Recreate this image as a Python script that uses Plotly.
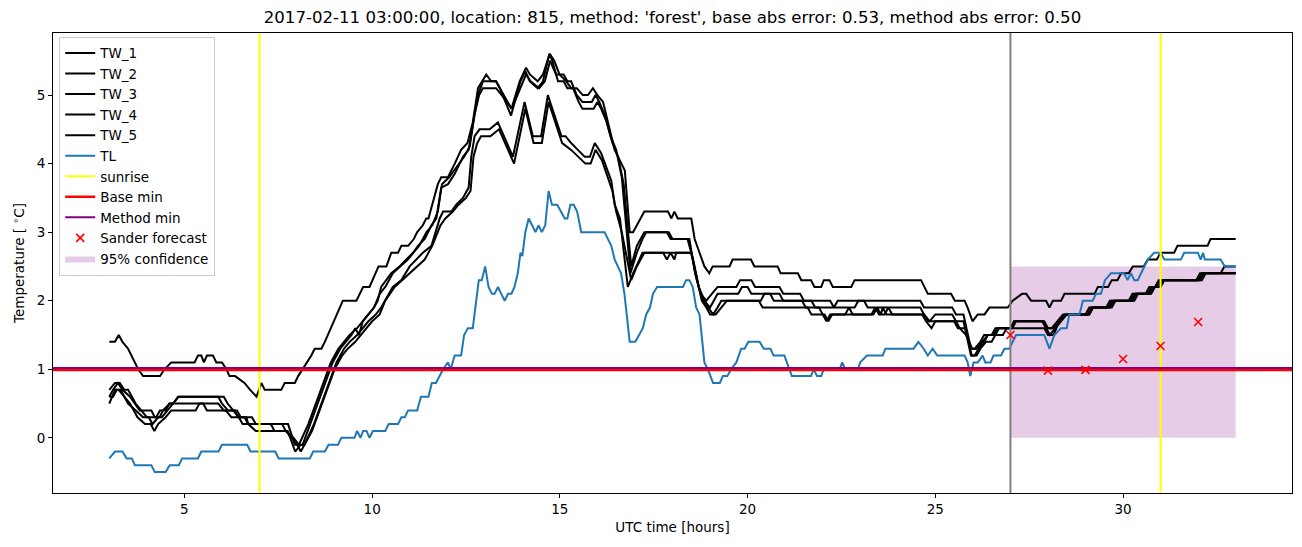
import plotly.graph_objects as go

# ---------------- data (hours UTC, temperature degC) ----------------
TW_1 = [(3.0,1.4),(3.15,1.4),(3.25,1.5),(3.35,1.4),(3.5,1.3),(3.77,1.0),(3.9,0.9),(4.35,0.9),(4.47,1.0),(4.65,1.1),(5.27,1.1),(5.36,1.2),(5.45,1.2),(5.52,1.1),(5.6,1.2),(5.76,1.2),(5.85,1.1),(6.0,1.1),(6.12,1.0),(6.2,0.9),(6.35,0.9),(6.6,0.8),(6.75,0.7),(6.92,0.6),(7.05,0.8),(7.14,0.7),(7.58,0.7),(7.67,0.8),(7.94,0.8),(8.03,0.9),(8.38,1.2),(8.47,1.3),(8.65,1.3),(8.74,1.4),(9.22,2.0),(9.58,2.0),(9.76,2.2),(9.93,2.2),(10.17,2.5),(10.38,2.5),(10.51,2.7),(10.69,2.7),(10.78,2.8),(10.96,2.8),(11.11,2.9),(11.2,3.0),(11.35,3.1),(11.44,3.2),(11.5,3.2),(11.75,3.7),(11.84,3.8),(12.02,3.8),(12.2,4.0),(12.37,4.2),(12.54,4.3),(12.68,4.6),(12.82,5.1),(13.04,5.3),(13.17,5.2),(13.3,5.2),(13.71,4.8),(13.93,5.2),(14.1,5.4),(14.2,5.3),(14.41,5.2),(14.55,5.3),(14.73,5.6),(14.85,5.5),(14.99,5.3),(15.17,5.2),(15.3,5.1),(15.45,5.1),(15.61,5.0),(15.75,5.0),(15.88,5.1),(16.0,5.0),(16.15,4.9),(16.28,4.6),(16.46,4.2),(16.73,3.9),(16.86,3.0),(16.95,3.0),(17.05,3.1),(17.15,3.2),(17.25,3.3),(17.88,3.3),(17.97,3.2),(18.05,3.3),(18.14,3.2),(18.5,3.2),(18.59,2.9),(18.72,2.7),(18.85,2.5),(18.98,2.4),(19.07,2.5),(19.52,2.5),(19.6,2.6),(20.09,2.6),(20.18,2.5),(20.8,2.5),(20.88,2.4),(21.34,2.4),(21.43,2.3),(21.69,2.3),(21.78,2.2),(21.96,2.2),(22.03,2.3),(22.18,2.3),(22.27,2.2),(22.76,2.2),(22.85,2.3),(24.62,2.3),(24.8,2.1),(25.42,2.1),(25.52,2.0),(25.78,2.0),(25.86,1.9),(25.99,1.7),(26.13,1.8),(26.31,1.8),(26.44,1.9),(26.93,1.9),(27.06,2.0),(27.31,2.1),(27.42,2.1),(27.55,2.0),(27.95,2.0),(28.04,1.9),(28.13,2.0),(28.35,2.0),(28.44,2.1),(29.24,2.1),(29.33,2.2),(29.6,2.2),(29.7,2.3),(29.85,2.3),(29.95,2.4),(30.15,2.4),(30.26,2.5),(30.55,2.5),(30.66,2.6),(30.9,2.6),(31.0,2.7),(31.36,2.7),(31.45,2.8),(32.25,2.8),(32.33,2.9),(33.0,2.9)]

TW_2 = [(3.0,0.6),(3.1,0.7),(3.23,0.8),(3.35,0.7),(3.55,0.6),(3.81,0.4),(4.12,0.4),(4.21,0.3),(4.34,0.3),(4.43,0.4),(4.61,0.5),(4.7,0.5),(4.83,0.6),(5.9,0.6),(6.0,0.5),(6.16,0.4),(6.34,0.4),(6.43,0.3),(6.65,0.3),(6.7,0.2),(7.76,0.2),(7.94,-0.1),(8.05,-0.1),(8.3,0.2),(8.5,0.5),(8.7,0.8),(8.9,1.1),(9.1,1.3),(9.25,1.4),(9.4,1.5),(9.6,1.6),(9.75,1.7),(9.9,1.8),(10.05,1.9),(10.15,2.0),(10.24,2.2),(10.51,2.4),(10.73,2.5),(10.91,2.6),(11.09,2.7),(11.22,2.8),(11.4,2.9),(11.58,3.1),(11.71,3.2),(11.84,3.65),(12.02,3.7),(12.2,3.85),(12.42,4.1),(12.57,4.2),(12.7,4.6),(12.82,5.0),(12.95,5.2),(13.3,5.2),(13.4,5.1),(13.7,4.7),(13.95,5.2),(14.08,5.35),(14.2,5.2),(14.41,5.1),(14.55,5.2),(14.72,5.6),(14.8,5.5),(14.95,5.2),(15.1,5.2),(15.2,5.1),(15.35,5.1),(15.5,4.9),(15.6,4.8),(15.9,4.8),(16.0,4.9),(16.1,4.8),(16.25,4.6),(16.4,4.3),(16.55,4.1),(16.7,3.7),(16.9,2.5),(17.05,2.8),(17.25,3.0),(17.9,3.0),(18.0,2.9),(18.45,2.9),(18.6,2.4),(18.75,2.1),(18.9,2.0),(19.05,2.1),(19.2,2.2),(19.7,2.2),(19.8,2.3),(20.1,2.3),(20.2,2.2),(20.85,2.2),(20.95,2.1),(21.4,2.1),(21.5,2.0),(22.2,2.0),(22.3,1.9),(22.4,2.0),(24.6,2.0),(24.7,1.9),(25.45,1.9),(25.55,1.8),(25.75,1.8),(25.95,1.3),(26.05,1.3),(26.2,1.4),(26.3,1.5),(26.5,1.5),(26.6,1.6),(27.0,1.6),(27.1,1.7),(27.9,1.7),(28.0,1.6),(28.15,1.6),(28.3,1.7),(28.45,1.8),(29.06,1.8),(29.15,1.9),(29.6,1.9),(29.7,2.0),(30.2,2.0),(30.3,2.1),(30.66,2.1),(30.75,2.2),(30.9,2.2),(31.0,2.3),(32.0,2.3),(32.1,2.4),(33.0,2.4)]

TW_3 = [(3.0,0.7),(3.15,0.8),(3.28,0.8),(3.4,0.7),(3.5,0.7),(3.7,0.5),(3.85,0.4),(4.0,0.3),(4.25,0.3),(4.35,0.4),(4.5,0.4),(4.6,0.5),(5.9,0.5),(6.05,0.4),(6.4,0.4),(6.5,0.3),(6.8,0.3),(6.9,0.2),(7.6,0.2),(7.7,0.1),(7.9,0.0),(8.05,-0.1),(8.15,-0.1),(8.35,0.2),(8.55,0.5),(8.75,0.8),(8.95,1.1),(9.15,1.3),(9.3,1.4),(9.45,1.5),(9.55,1.6),(9.65,1.5),(9.75,1.7),(9.9,1.8),(10.05,1.9),(10.2,2.1),(10.35,2.2),(10.55,2.4),(10.75,2.5),(10.95,2.6),(11.1,2.7),(11.25,2.8),(11.45,3.0),(11.6,3.1),(11.75,3.3),(11.86,3.7),(12.05,3.8),(12.25,3.95),(12.45,4.1),(12.6,4.25),(12.72,4.7),(12.85,5.0),(12.95,5.1),(13.3,5.1),(13.45,5.0),(13.72,4.8),(13.95,5.1),(14.1,5.3),(14.22,5.2),(14.45,5.1),(14.6,5.2),(14.74,5.5),(14.9,5.3),(15.1,5.3),(15.2,5.2),(15.3,5.2),(15.45,5.0),(15.6,4.9),(15.85,4.9),(15.95,5.0),(16.05,4.9),(16.2,4.7),(16.35,4.4),(16.5,4.2),(16.65,3.8),(16.88,2.4),(17.05,2.7),(17.2,2.9),(17.3,3.0),(17.85,3.0),(17.95,2.9),(18.4,2.9),(18.55,2.6),(18.7,2.2),(18.85,2.0),(19.0,1.9),(19.1,2.0),(19.2,2.1),(19.75,2.1),(19.85,2.2),(20.0,2.2),(20.1,2.1),(20.85,2.1),(20.95,2.0),(21.7,2.0),(21.8,1.9),(22.85,1.9),(22.95,2.0),(23.1,2.0),(23.2,1.9),(24.6,1.9),(24.7,1.8),(24.85,1.7),(25.0,1.8),(25.45,1.8),(25.55,1.7),(25.75,1.7),(25.95,1.2),(26.05,1.2),(26.15,1.3),(26.3,1.4),(26.4,1.5),(26.6,1.5),(26.7,1.6),(27.05,1.6),(27.15,1.7),(27.85,1.7),(27.95,1.6),(28.1,1.6),(28.25,1.7),(28.4,1.8),(29.1,1.8),(29.2,1.9),(29.65,1.9),(29.75,2.0),(30.25,2.0),(30.35,2.1),(30.7,2.1),(30.8,2.2),(30.95,2.2),(31.05,2.3),(32.05,2.3),(32.15,2.4),(32.6,2.4),(32.7,2.5),(33.0,2.5)]

TW_4 = [(3.0,0.5),(3.15,0.7),(3.25,0.7),(3.4,0.6),(3.55,0.5),(3.75,0.3),(3.95,0.2),(4.1,0.2),(4.2,0.1),(4.3,0.2),(4.5,0.3),(4.65,0.4),(5.3,0.4),(5.4,0.5),(5.5,0.5),(5.6,0.4),(6.1,0.4),(6.25,0.3),(6.6,0.3),(6.7,0.2),(6.9,0.1),(7.75,0.1),(7.95,-0.2),(8.1,-0.1),(8.2,-0.1),(8.45,0.2),(8.65,0.5),(8.85,0.8),(9.05,1.1),(9.25,1.3),(9.4,1.4),(9.6,1.5),(9.75,1.6),(9.9,1.7),(10.1,1.8),(10.24,1.9),(10.55,2.2),(10.78,2.3),(11.0,2.5),(11.18,2.6),(11.35,2.7),(11.58,2.8),(11.8,3.2),(11.89,3.3),(12.11,3.3),(12.24,3.4),(12.42,3.5),(12.57,3.65),(12.64,4.1),(12.73,4.4),(12.86,4.5),(13.13,4.5),(13.35,4.6),(13.75,4.1),(14.06,4.9),(14.28,4.4),(14.5,4.4),(14.68,5.0),(15.04,4.4),(15.15,4.4),(15.3,4.3),(15.48,4.2),(15.66,4.1),(15.8,4.1),(15.93,4.3),(16.1,4.15),(16.37,3.75),(16.46,3.4),(16.6,3.2),(16.81,2.2),(16.95,2.4),(17.12,2.6),(17.2,2.7),(17.75,2.7),(17.85,2.6),(17.95,2.7),(18.05,2.6),(18.1,2.7),(18.5,2.7),(18.65,2.3),(18.8,2.0),(18.95,1.9),(19.08,1.8),(19.2,1.9),(19.3,2.0),(20.35,2.0),(20.45,2.1),(20.6,2.1),(20.7,2.0),(21.45,2.0),(21.55,1.9),(21.9,1.9),(22.0,1.8),(22.1,1.7),(22.2,1.8),(22.6,1.8),(22.7,1.9),(22.8,1.8),(23.35,1.8),(23.45,1.9),(23.55,1.8),(23.6,1.9),(23.7,1.8),(24.65,1.8),(24.75,1.7),(24.9,1.6),(25.0,1.7),(25.5,1.7),(25.6,1.6),(25.8,1.6),(25.97,1.2),(26.1,1.2),(26.2,1.3),(26.35,1.4),(26.5,1.4),(26.6,1.5),(26.8,1.5),(26.9,1.6),(27.9,1.6),(28.0,1.5),(28.15,1.5),(28.3,1.7),(28.5,1.8),(29.1,1.8),(29.2,1.9),(29.7,1.9),(29.8,2.0),(30.3,2.0),(30.4,2.1),(30.75,2.1),(30.85,2.2),(31.0,2.2),(31.1,2.3),(32.1,2.3),(32.2,2.4),(33.0,2.4)]

TW_5 = [(3.0,0.6),(3.1,0.6),(3.2,0.7),(3.3,0.7),(3.5,0.5),(3.7,0.4),(3.9,0.3),(4.05,0.3),(4.15,0.2),(4.3,0.3),(4.4,0.3),(4.55,0.4),(4.7,0.5),(4.85,0.6),(6.05,0.6),(6.15,0.5),(6.3,0.4),(6.45,0.3),(6.55,0.2),(7.3,0.2),(7.4,0.1),(7.7,0.1),(7.85,0.0),(8.0,-0.1),(8.1,-0.2),(8.2,-0.1),(8.4,0.1),(8.6,0.4),(8.8,0.7),(9.0,1.0),(9.2,1.2),(9.35,1.3),(9.55,1.4),(9.7,1.5),(9.85,1.6),(10.0,1.7),(10.2,1.8),(10.35,2.0),(10.6,2.2),(10.8,2.3),(11.0,2.4),(11.2,2.5),(11.4,2.6),(11.6,2.8),(11.82,3.1),(11.95,3.2),(12.15,3.3),(12.3,3.4),(12.5,3.5),(12.62,3.6),(12.7,4.1),(12.8,4.3),(12.9,4.4),(13.15,4.4),(13.38,4.5),(13.78,4.0),(14.08,4.8),(14.3,4.3),(14.52,4.3),(14.7,4.9),(15.06,4.3),(15.3,4.2),(15.5,4.1),(15.68,4.0),(15.82,4.0),(15.95,4.2),(16.12,4.05),(16.4,3.6),(16.5,3.3),(16.65,3.0),(16.9,2.3),(17.05,2.5),(17.15,2.6),(17.25,2.7),(17.7,2.7),(18.5,2.7),(18.62,2.4),(18.78,2.0),(18.9,1.9),(19.0,1.8),(19.15,1.8),(19.3,1.9),(19.45,2.0),(20.3,2.0),(20.4,1.9),(21.6,1.9),(21.7,1.8),(22.05,1.8),(22.15,1.7),(22.25,1.8),(23.3,1.8),(23.4,1.9),(23.5,1.8),(23.65,1.8),(23.75,1.9),(23.85,1.8),(24.7,1.8),(24.8,1.7),(25.55,1.7),(25.65,1.6),(25.82,1.5),(25.98,1.3),(26.1,1.3),(26.25,1.4),(26.4,1.5),(26.55,1.5),(26.65,1.6),(27.0,1.6),(27.1,1.7),(27.85,1.7),(27.95,1.6),(28.05,1.5),(28.2,1.6),(28.35,1.7),(28.5,1.8),(29.0,1.8),(29.1,1.9),(29.55,1.9),(29.65,2.0),(30.15,2.0),(30.25,2.1),(30.6,2.1),(30.7,2.2),(30.85,2.2),(30.95,2.3),(31.95,2.3),(32.05,2.4),(33.0,2.4)]

TL = [(3.0,-0.3),(3.15,-0.2),(3.35,-0.2),(3.46,-0.3),(3.6,-0.3),(3.68,-0.4),(4.12,-0.4),(4.21,-0.5),(4.5,-0.5),(4.61,-0.4),(4.85,-0.4),(4.94,-0.3),(5.36,-0.3),(5.45,-0.2),(5.91,-0.2),(6.0,-0.1),(6.67,-0.1),(6.76,-0.2),(7.42,-0.2),(7.51,-0.3),(8.34,-0.3),(8.43,-0.2),(8.74,-0.2),(8.84,-0.1),(9.09,-0.1),(9.18,0.0),(9.53,0.0),(9.6,0.1),(9.69,0.0),(9.76,0.1),(9.85,0.1),(9.93,0.0),(10.02,0.1),(10.35,0.1),(10.44,0.2),(10.69,0.2),(10.78,0.3),(10.87,0.3),(10.96,0.4),(11.2,0.4),(11.25,0.5),(11.3,0.6),(11.5,0.6),(11.59,0.8),(11.7,0.8),(11.8,0.9),(11.89,1.0),(12.02,1.1),(12.09,1.0),(12.2,1.2),(12.37,1.2),(12.45,1.5),(12.55,1.6),(12.68,1.6),(12.84,2.3),(12.92,2.3),(13.01,2.5),(13.1,2.2),(13.19,2.1),(13.26,2.1),(13.35,2.2),(13.44,2.1),(13.53,2.0),(13.62,2.1),(13.71,2.1),(13.79,2.2),(13.88,2.4),(13.95,2.7),(14.0,2.65),(14.08,3.0),(14.17,3.2),(14.26,3.1),(14.35,3.0),(14.43,3.1),(14.52,3.0),(14.61,3.1),(14.7,3.6),(14.79,3.4),(14.93,3.4),(15.13,3.2),(15.2,3.2),(15.28,3.4),(15.37,3.4),(15.46,3.3),(15.57,3.0),(16.19,3.0),(16.28,2.9),(16.37,2.8),(16.46,2.6),(16.55,2.5),(16.63,2.4),(16.72,2.1),(16.86,1.4),(17.01,1.4),(17.12,1.5),(17.21,1.6),(17.3,1.8),(17.4,1.9),(17.48,2.1),(17.59,2.2),(18.28,2.2),(18.36,2.3),(18.45,2.3),(18.54,2.2),(18.63,1.9),(18.72,1.8),(18.85,1.1),(18.94,1.0),(19.08,0.8),(19.26,0.8),(19.34,0.9),(19.46,0.9),(19.56,1.0),(19.7,1.1),(19.83,1.3),(19.92,1.3),(20.02,1.4),(20.32,1.4),(20.43,1.3),(20.61,1.3),(20.69,1.2),(20.98,1.2),(21.18,0.9),(21.69,0.9),(21.76,1.0),(21.85,0.9),(21.96,0.9),(22.03,1.0),(22.45,1.0),(22.52,1.1),(22.6,1.0),(22.94,1.0),(23.0,1.1),(23.18,1.2),(23.6,1.2),(23.67,1.3),(24.42,1.3),(24.55,1.4),(24.69,1.3),(24.8,1.2),(24.93,1.3),(25.05,1.2),(25.78,1.2),(25.86,1.1),(25.93,0.9),(26.02,1.1),(26.13,1.1),(26.26,1.2),(26.33,1.1),(26.47,1.1),(26.55,1.2),(26.75,1.2),(26.84,1.3),(26.97,1.3),(27.06,1.4),(27.15,1.5),(27.9,1.5),(28.04,1.3),(28.17,1.5),(28.35,1.6),(28.5,1.6),(28.57,1.8),(28.84,1.8),(28.93,2.0),(29.19,2.0),(29.28,2.1),(29.41,2.1),(29.52,2.3),(29.68,2.4),(30.03,2.4),(30.12,2.3),(30.21,2.4),(30.3,2.3),(30.39,2.3),(30.48,2.4),(30.57,2.5),(30.66,2.6),(30.83,2.7),(31.0,2.7),(31.1,2.6),(31.54,2.6),(31.63,2.7),(31.99,2.7),(32.07,2.6),(32.13,2.7),(32.18,2.6),(32.6,2.6),(32.71,2.5),(33.0,2.5)]

sunrise_hours = [7.0, 31.0]
forecast_hour = 27.0
base_min = 0.99
method_min = 1.02
sander_hours = [27, 28, 29, 30, 31, 32]
sander_values = [1.5, 0.98, 0.99, 1.15, 1.34, 1.69]
conf_hours = [27.0, 33.0]
conf_low = [0.0, 0.0]
conf_high = [2.5, 2.5]

title = "2017-02-11 03:00:00, location: 815, method: 'forest', base abs error: 0.53, method abs error: 0.50"
x_ticks = [5, 10, 15, 20, 25, 30]
y_ticks = [0, 1, 2, 3, 4, 5]

# ---------------- axis limits (matplotlib-like 5% margins) ----------------
series = [TW_1, TW_2, TW_3, TW_4, TW_5, TL]
all_x = [p[0] for s in series for p in s]
all_y = [p[1] for s in series for p in s] + conf_low + conf_high
x0, x1 = min(all_x), max(all_x)
y0, y1 = min(all_y), max(all_y)
xr = [x0 - 0.05 * (x1 - x0), x1 + 0.05 * (x1 - x0)]
yr = [y0 - 0.05 * (y1 - y0), y1 + 0.05 * (y1 - y0)]

FONT = "DejaVu Sans"
fig = go.Figure()

# confidence band (drawn first, legend last)
fig.add_trace(go.Scatter(
    x=conf_hours + conf_hours[::-1], y=conf_high + conf_low[::-1],
    fill="toself", fillcolor="rgba(128,0,128,0.2)", line=dict(width=0),
    mode="lines", name="95% confidence", legendrank=1011, legendgroup="g11",
    hoverinfo="skip"))

names = ["TW_1", "TW_2", "TW_3", "TW_4", "TW_5"]
for i, (nm, s) in enumerate(zip(names, series[:5])):
    fig.add_trace(go.Scatter(
        x=[p[0] for p in s], y=[p[1] for p in s], mode="lines",
        line=dict(color="black", width=2), name=nm,
        legendrank=1000 + i, legendgroup="g%d" % i))

fig.add_trace(go.Scatter(
    x=[p[0] for p in TL], y=[p[1] for p in TL], mode="lines",
    line=dict(color="#1f77b4", width=2), name="TL",
    legendrank=1005, legendgroup="g5"))

for k, h in enumerate(sunrise_hours):
    fig.add_trace(go.Scatter(
        x=[h, h], y=yr, mode="lines", line=dict(color="yellow", width=2),
        name="sunrise", showlegend=(k == 0), legendrank=1006, legendgroup="g6"))

fig.add_trace(go.Scatter(
    x=[forecast_hour, forecast_hour], y=yr, mode="lines",
    line=dict(color="gray", width=2), showlegend=False))

fig.add_trace(go.Scatter(
    x=xr, y=[base_min, base_min], mode="lines", line=dict(color="red", width=2.5),
    name="Base min", legendrank=1007, legendgroup="g7"))
fig.add_trace(go.Scatter(
    x=xr, y=[method_min, method_min], mode="lines", line=dict(color="purple", width=2),
    name="Method min", legendrank=1008, legendgroup="g8"))

fig.add_trace(go.Scatter(
    x=sander_hours, y=sander_values, mode="markers",
    marker=dict(symbol="x-thin", size=8, line=dict(color="red", width=1.6), color="red"),
    name="Sander forecast", legendrank=1009, legendgroup="g9"))

axis_common = dict(
    showline=True, mirror=True, linecolor="black", linewidth=1,
    ticks="outside", ticklen=4, tickwidth=1, tickcolor="black",
    showgrid=False, zeroline=False,
    tickfont=dict(family=FONT, size=13.5, color="black"),
)

fig.update_layout(
    width=1302, height=547,
    margin=dict(l=53, r=10, t=33, b=54),
    paper_bgcolor="white", plot_bgcolor="white",
    font=dict(family=FONT, size=13.5, color="black"),
    title=dict(text=title, x=0.5165, xanchor="center", y=1 - 17 / 547, yanchor="middle",
               yref="container", font=dict(family=FONT, size=16.6, color="black")),
    xaxis=dict(range=xr, tickvals=x_ticks, **axis_common,
               title=dict(text="UTC time [hours]", standoff=6,
                          font=dict(family=FONT, size=13.5))),
    yaxis=dict(range=yr, tickvals=y_ticks, **axis_common,
               title=dict(text="Temperature [ <sup>∘</sup>C]", standoff=8,
                          font=dict(family=FONT, size=13.5))),
    legend=dict(x=0.005, y=0.992, xanchor="left", yanchor="top",
                bgcolor="rgba(255,255,255,0.8)", bordercolor="#cccccc", borderwidth=1,
                font=dict(family=FONT, size=13.5), tracegroupgap=2.5, itemwidth=30,
                traceorder="normal"),
    showlegend=True,
)

fig.write_html("out.html")
